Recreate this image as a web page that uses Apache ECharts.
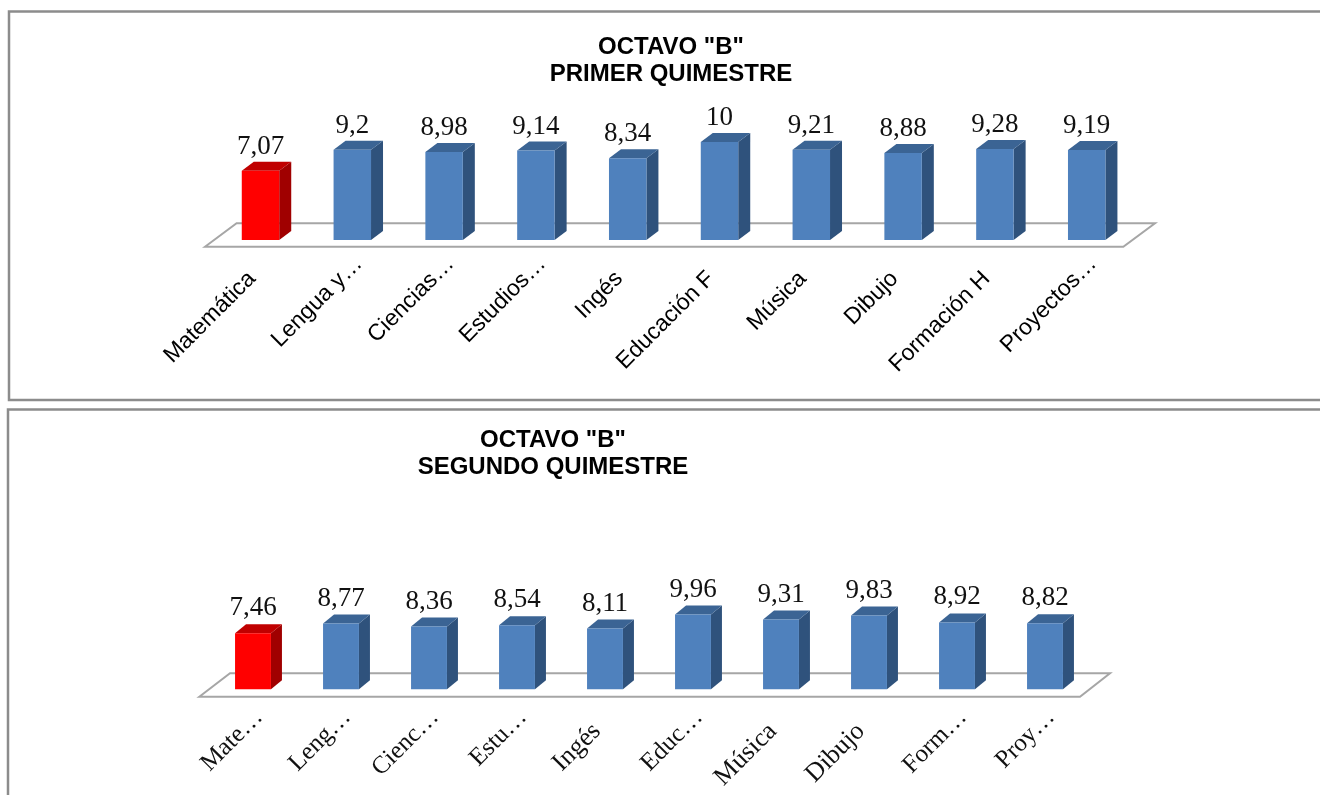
<!DOCTYPE html>
<html>
<head>
<meta charset="utf-8">
<title>Octavo B</title>
<script src="https://cdn.jsdelivr.net/npm/echarts@6/dist/echarts.min.js"></script>
<style>
	html, body { margin: 0; padding: 0; background: #fff; }
	#main { width: 1320px; height: 795px; }
</style>
</head>
<body>
<div id="main"></div>
<script>
	var labelsPrimer = ['Matemática', 'Lengua y…', 'Ciencias…', 'Estudios…', 'Ingés', 'Educación F', 'Música', 'Dibujo', 'Formación H', 'Proyectos…'];
	var labelsSegundo = ['Mate…', 'Leng…', 'Cienc…', 'Estu…', 'Ingés', 'Educ…', 'Música', 'Dibujo', 'Form…', 'Proy…'];
	var valuesPrimer = [7.07, 9.2, 8.98, 9.14, 8.34, 10, 9.21, 8.88, 9.28, 9.19];
	var valuesSegundo = [7.46, 8.77, 8.36, 8.54, 8.11, 9.96, 9.31, 9.83, 8.92, 8.82];
	var titlePrimer = 'OCTAVO "B"\nPRIMER QUIMESTRE';
	var titleSegundo = 'OCTAVO "B"\nSEGUNDO QUIMESTRE';

	var serifFont = '"Liberation Serif", serif';
	var sansFont = '"Liberation Sans", Arial, sans-serif';

	function barItem(depthX, depthY, labelGap) {
		return function (params, api) {
			var idx = api.value(0);
			var val = api.value(1);
			var top = api.coord([idx, val]);
			var base = api.coord([idx, 0]);
			var w = api.size([1, 0])[0] * 0.408;
			var x0 = top[0] - w / 2;
			var x1 = top[0] + w / 2;
			var isLow = val < 8;
			return {
				type: 'group',
				children: [{
					type: 'polygon',
					shape: { points: [[x1, top[1]], [x1 + depthX, top[1] - depthY], [x1 + depthX, base[1] - depthY], [x1, base[1]]] },
					style: { fill: isLow ? '#a00000' : '#2f527c' }
				}, {
					type: 'polygon',
					shape: { points: [[x0, top[1]], [x0 + depthX, top[1] - depthY], [x1 + depthX, top[1] - depthY], [x1, top[1]]] },
					style: { fill: isLow ? '#c00000' : '#3b6494' }
				}, {
					type: 'rect',
					shape: { x: x0, y: top[1], width: w, height: base[1] - top[1] },
					style: { fill: isLow ? '#ff0000' : '#4f81bd' }
				}, {
					type: 'text',
					style: {
						x: top[0],
						y: top[1] - labelGap,
						text: String(val).replace('.', ','),
						font: '27px ' + serifFont,
						fill: '#111',
						align: 'center',
						verticalAlign: 'bottom'
					}
				}]
			};
		};
	}

	function floorItem(frontL, backL, frontR, backR, down, up) {
		return function (params, api) {
			var c = params.coordSys;
			var yb = c.y + c.height;
			return {
				type: 'polygon',
				shape: { points: [[c.x + frontL, yb + down], [c.x + backL, yb - up], [c.x + c.width + backR, yb - up], [c.x + c.width + frontR, yb + down]] },
				style: { fill: '#fff', stroke: '#a6a6a6', lineWidth: 2 }
			};
		};
	}

	// labels that were not cut sit a bit further down the diagonal than the cut ones
	function labelText(value) {
		return value.slice(-1) === '…' ? '{cut|' + value + '}' : '{full|' + value + '}';
	}

	var option = {
		animation: false,
		backgroundColor: '#fff',
		graphic: [{
			type: 'rect',
			shape: { x: 9, y: 11.5, width: 1330, height: 388.5 },
			style: { fill: 'none', stroke: '#8c8c8c', lineWidth: 2.5 }
		}, {
			type: 'rect',
			shape: { x: 8, y: 409.5, width: 1330, height: 420 },
			style: { fill: 'none', stroke: '#8c8c8c', lineWidth: 2.5 }
		}],
		title: [{
			text: titlePrimer,
			left: 666,
			top: 29,
			textAlign: 'center',
			textStyle: { fontFamily: sansFont, fontSize: 24, fontWeight: 'bold', color: '#000', lineHeight: 27 }
		}, {
			text: titleSegundo,
			left: 548,
			top: 422,
			textAlign: 'center',
			textStyle: { fontFamily: sansFont, fontSize: 24, fontWeight: 'bold', color: '#000', lineHeight: 27 }
		}],
		grid: [
			{ left: 214.6, top: 142, width: 918, height: 98 },
			{ left: 209, top: 614.3, width: 880, height: 75 }
		],
		xAxis: [{
			gridIndex: 0,
			type: 'category',
			data: labelsPrimer,
			axisLine: { show: false },
			axisTick: { show: false },
			axisLabel: {
				interval: 0, rotate: 45, margin: 14, color: '#000', fontFamily: sansFont, fontSize: 23,
				formatter: labelText,
				rich: {
					cut: { color: '#000', fontFamily: sansFont, fontSize: 23, padding: [18, 0, 0, 0] },
					full: { color: '#000', fontFamily: sansFont, fontSize: 23, padding: [18, 21, 0, 0] }
				}
			}
		}, {
			gridIndex: 1,
			type: 'category',
			data: labelsSegundo,
			axisLine: { show: false },
			axisTick: { show: false },
			axisLabel: {
				interval: 0, rotate: 45, margin: 18, color: '#111', fontFamily: serifFont, fontSize: 25,
				formatter: labelText,
				rich: {
					cut: { color: '#111', fontFamily: serifFont, fontSize: 25, padding: [17, 0, 0, 0] },
					full: { color: '#111', fontFamily: serifFont, fontSize: 26, padding: [17, 20, 0, 0] }
				}
			}
		}],
		yAxis: [
			{ gridIndex: 0, type: 'value', min: 0, max: 10, show: false },
			{ gridIndex: 1, type: 'value', min: 0, max: 10, show: false }
		],
		series: [{
			type: 'custom',
			xAxisIndex: 0,
			yAxisIndex: 0,
			z: 1,
			silent: true,
			data: [[0, 0]],
			renderItem: floorItem(-9.6, 22, -9.3, 22.4, 6.7, 16.7)
		}, {
			type: 'custom',
			xAxisIndex: 0,
			yAxisIndex: 0,
			z: 2,
			data: valuesPrimer.map(function (v, i) { return [i, v]; }),
			renderItem: barItem(12, 9, 10.5)
		}, {
			type: 'custom',
			xAxisIndex: 1,
			yAxisIndex: 1,
			z: 1,
			silent: true,
			data: [[0, 0]],
			renderItem: floorItem(-9.7, 21, -9, 21, 7.4, 16)
		}, {
			type: 'custom',
			xAxisIndex: 1,
			yAxisIndex: 1,
			z: 2,
			data: valuesSegundo.map(function (v, i) { return [i, v]; }),
			renderItem: barItem(11, 9, 11.5)
		}]
	};

	var myChart = echarts.init(document.getElementById('main'));
	myChart.setOption(option);
</script>
</body>
</html>
